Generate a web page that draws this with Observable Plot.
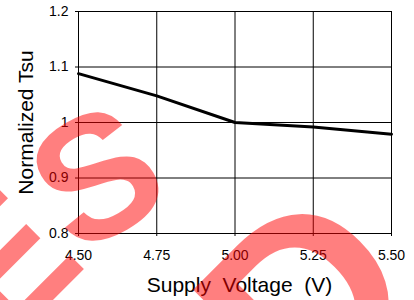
<!DOCTYPE html>
<html>
<head>
<meta charset="utf-8">
<script src="https://cdn.jsdelivr.net/npm/d3@7"></script>
<script src="https://cdn.jsdelivr.net/npm/@observablehq/plot@0.6"></script>
<style>
  html, body { margin: 0; padding: 0; background: #fff; }
  #wrap { position: relative; width: 414px; height: 300px; overflow: hidden; }
  #wm { position: absolute; left: 0; top: 0; pointer-events: none; }
</style>
</head>
<body>
<div id="wrap">
  <div id="chart"></div>
  <svg id="wm" width="414" height="300">
    <g fill="rgb(255,0,0)" fill-opacity="0.5" font-family="Liberation Sans, Arial, sans-serif" font-weight="bold">
      <text transform="translate(4,349) rotate(-45)" font-size="180">E</text>
      <text transform="translate(95,174) rotate(-30)" font-size="174" text-anchor="middle" dy="0.36em">S</text>
      <text transform="translate(302,422) rotate(-45)" font-size="248">D</text>
    </g>
  </svg>
</div>
<script>
const voltage = [4.5, 4.75, 5.0, 5.25, 5.5];
const tsu = [1.088, 1.048, 1.0, 0.992, 0.979];
const xTicks = [4.5, 4.75, 5.0, 5.25, 5.5];
const xTickLabels = ["4.50", "4.75", "5.00", "5.25", "5.50"];
const yTicks = [0.8, 0.9, 1.0, 1.1, 1.2];
const yTickLabels = ["0.8", "0.9", "1", "1.1", "1.2"];
const xLabel = "Supply\u00a0 Voltage\u00a0 (V)";
const yLabel = "Normalized Tsu";

const data = voltage.map((v, i) => ({v, t: tsu[i]}));

const chart = Plot.plot({
  width: 414,
  height: 300,
  marginLeft: 78,
  marginRight: 23,
  marginTop: 11,
  marginBottom: 67,
  style: {fontFamily: "Liberation Sans, Arial, sans-serif", fontSize: "14px", color: "black", background: "white"},
  x: {domain: [4.5, 5.5]},
  y: {domain: [0.8, 1.2]},
  marks: [
    Plot.gridX(xTicks, {stroke: "black", strokeOpacity: 1, strokeWidth: 1}),
    Plot.gridY(yTicks, {stroke: "black", strokeOpacity: 1, strokeWidth: 1}),
    Plot.axisX(xTicks, {tickSize: 3, tickPadding: 14, label: null, tickFormat: (d, i) => xTickLabels[i], fontSize: 14}),
    Plot.axisY(yTicks, {tickSize: 3, tickPadding: 7, label: null, tickFormat: (d, i) => yTickLabels[i], fontSize: 14}),
    Plot.line(data, {x: "v", y: "t", stroke: "black", strokeWidth: 3}),
    Plot.text([xLabel], {frameAnchor: "bottom", dx: 4.5, dy: 52, fontSize: 21, lineAnchor: "middle", textAnchor: "middle"}),
    Plot.text([yLabel], {frameAnchor: "left", dx: -52, rotate: -90, fontSize: 21, lineAnchor: "middle", textAnchor: "middle"})
  ]
});
document.getElementById("chart").appendChild(chart);
</script>
</body>
</html>
